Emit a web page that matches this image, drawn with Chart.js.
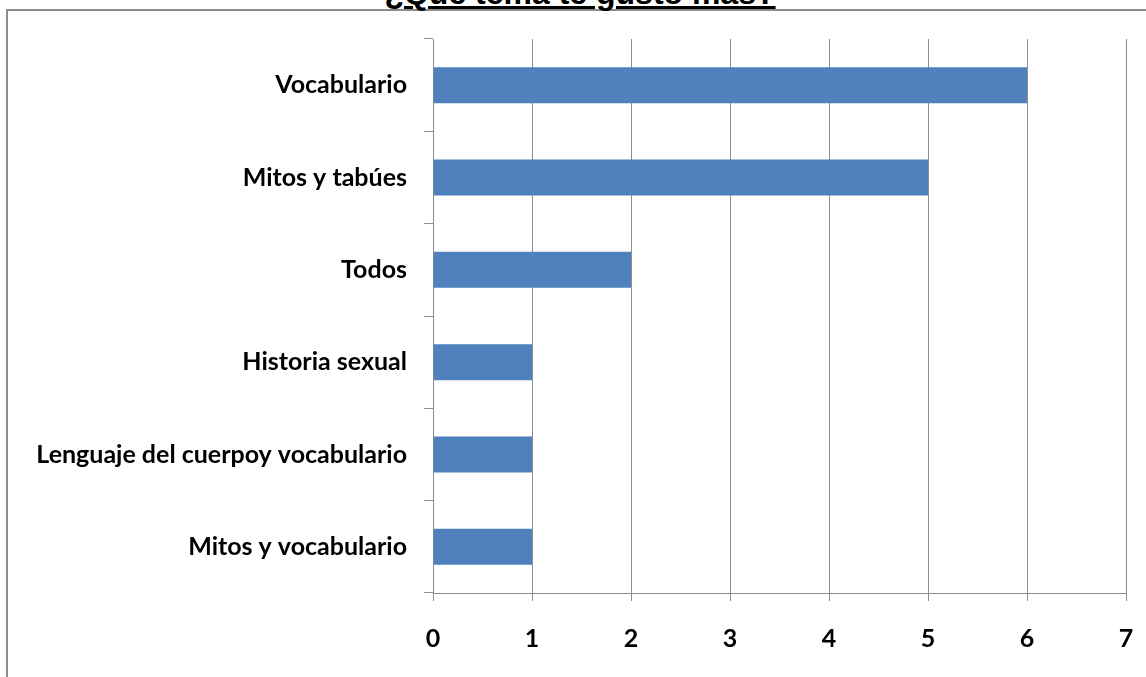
<!DOCTYPE html>
<html>
<head>
<meta charset="utf-8">
<script src="https://cdn.jsdelivr.net/npm/chart.js@4/dist/chart.umd.min.js"></script>
<style>
    body { margin: 0; background: #fff; width: 1146px; height: 677px; overflow: hidden; position: relative; }
    .frame { position: absolute; left: 6px; top: 9px; width: 1200px; height: 700px;
        border-top: 2px solid #8c8c8c; border-left: 2px solid #8c8c8c; }
    .title { position: absolute; left: 0; width: 1160px; top: -25px; line-height: 32px; text-align: center;
        font: bold 32px "Liberation Sans", Arial, sans-serif; color: #000; }
    .title span { text-decoration: underline; text-decoration-thickness: 3px; }
    #chart { position: absolute; left: 0; top: 0; }
</style>
</head>
<body>
<div class="frame"></div>
<div class="title"><span>¿Qué tema te gustó más?</span></div>
<canvas id="chart" width="1146" height="677"></canvas>
<script>
// Data
const categories = ['Vocabulario', 'Mitos y tabúes', 'Todos', 'Historia sexual', 'Lenguaje del cuerpoy vocabulario', 'Mitos y vocabulario'];
const values = [6, 5, 2, 1, 1, 1];
const xTicks = [0, 1, 2, 3, 4, 5, 6, 7];

const gridColor = '#8e8e8e';

document.addEventListener('DOMContentLoaded', function() {
    const ctx = document.getElementById('chart');
    new Chart(ctx, {
        type: 'bar',
        data: {
            labels: categories,
            datasets: [{
                data: values,
                backgroundColor: '#4f81bd',
                borderWidth: 0,
                barPercentage: 0.39,
                categoryPercentage: 1
            }]
        },
        options: {
            indexAxis: 'y',
            responsive: false,
            animation: false,
            layout: { padding: { left: 0, right: 20, top: 39, bottom: 0 } },
            plugins: {
                legend: { display: false },
                tooltip: { enabled: false }
            },
            scales: {
                x: {
                    min: xTicks[0],
                    max: xTicks[xTicks.length - 1],
                    afterBuildTicks: function(scale) {
                        scale.ticks = xTicks.map(v => ({ value: v }));
                    },
                    afterFit: function(scale) {
                        scale.height = 84;
                        scale.paddingLeft = 0;
                        scale.paddingRight = 0;
                    },
                    grid: { color: gridColor, lineWidth: 1, tickLength: 8 },
                    border: { color: gridColor, width: 1 },
                    ticks: {
                        color: '#000',
                        padding: 23,
                        font: { family: 'Lato', weight: 'bold', size: 25 }
                    }
                },
                y: {
                    afterFit: function(scale) {
                        scale.width = 433;
                        scale.paddingTop = 0;
                        scale.paddingBottom = 0;
                    },
                    grid: { color: gridColor, lineWidth: 1, tickLength: 9, drawOnChartArea: false, offset: true },
                    border: { color: gridColor, width: 1 },
                    ticks: {
                        color: '#000',
                        padding: 17,
                        font: { family: 'Lato', weight: 'bold', size: 25 }
                    }
                }
            }
        }
    });
});
</script>
</body>
</html>
